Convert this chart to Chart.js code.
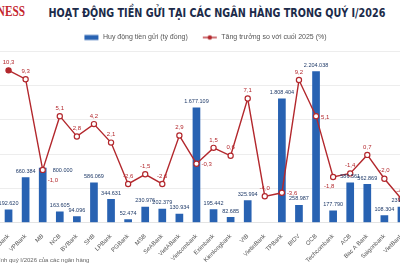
<!DOCTYPE html>
<html lang="vi">
<head>
<meta charset="utf-8">
<script src="https://cdn.jsdelivr.net/npm/chart.js@4.4.1/dist/chart.umd.min.js"></script>
<style>
html, body { margin: 0; padding: 0; background: #fff; }
body { width: 400px; height: 266px; position: relative; overflow: hidden; font-family: "Liberation Sans", Arial, sans-serif; }
#logo { position: absolute; left: -95px; width: 120px; text-align: right; top: 3px; font: bold 15px "Liberation Serif", serif; color: #c4262e; white-space: nowrap; transform: scaleX(0.75); transform-origin: right center; }
#title { position: absolute; left: 0; width: 433px; top: 5px; text-align: center; font-family: "DejaVu Sans", sans-serif; font-weight: bold; font-stretch: condensed; font-size: 13px; color: #1c2b4a; white-space: nowrap; }
#title span { display: inline-block; transform-origin: center; }
#note { position: absolute; left: -1px; top: 257px; font: 6px "Liberation Sans", sans-serif; color: #666; white-space: nowrap; }
#wrap { position: absolute; left: -40px; top: 0; width: 480px; height: 266px; }
</style>
</head>
<body>
<div id="logo">BUSINESS</div>
<div id="title"><span>HOẠT ĐỘNG TIỀN GỬI TẠI CÁC NGÂN HÀNG TRONG QUÝ I/2026</span></div>
<div id="wrap"><canvas id="chart"></canvas></div>
<div id="note">ính quý I/2026 của các ngân hàng</div>
<script>
// dữ liệu
const banks = ['HDBank', 'VPBank', 'MB', 'NCB', 'BVBank', 'SHB', 'LPBank', 'PGBank', 'MSB', 'SeABank',
  'VietABank', 'Vietcombank', 'Eximbank', 'Kienlongbank', 'VIB', 'VietinBank', 'TPBank', 'BIDV', 'OCB',
  'Techcombank', 'ACB', 'Bac A Bank', 'Saigonbank', 'VietBank'];
const deposits = [192620, 660384, 800000, 163605, 94096, 586069, 344631, 52474, 230976, 202379,
  130934, 1677109, 195442, 82685, 325994, null, 1808404, 258987, 2204038,
  177790, 586561, 562869, 108304, 231000];
const growth = [10.3, 9.3, -1.0, 5.1, 2.8, 4.2, 2.1, -2.6, -1.5, -2.6,
  2.9, -0.3, 1.5, 0.6, 7.1, -4.0, -3.6, 9.2, 5.1,
  -1.8, -1.4, 0.7, -2.0, -4.3];
const depositTicks = [0, 500000, 1000000, 1500000, 2000000, 2500000];

const BLUE = '#2862b2';
const RED = '#b3282d';

// chỗ đặt nhãn khác mặc định (mặc định: phía trên)
const growthLabelPos = { 2: 'right', 11: 'right', 16: 'right', 18: 'right', 19: 'below' };
const depositLabelPos = { 2: 'right' };

// tiêu đề co ngang cho vừa
const titleSpan = document.querySelector('#title span');
titleSpan.style.transform = 'scaleX(' + (337 / titleSpan.offsetWidth) + ')';

function fmtDeposit(v) {
  return v.toString().replace(/\B(?=(\d{3})+(?!\d))/g, '.');
}
function fmtGrowth(v) {
  return v.toFixed(1).replace('.', ',');
}

// biểu tượng chú thích
function legendIcon(kind) {
  const c = document.createElement('canvas');
  c.width = 16; c.height = 8;
  const g = c.getContext('2d');
  if (kind === 'bar') {
    g.fillStyle = BLUE;
    g.fillRect(1, 1.5, 14, 5);
  } else {
    g.strokeStyle = RED;
    g.lineWidth = 1.3;
    g.beginPath(); g.moveTo(1, 4); g.lineTo(15, 4); g.stroke();
    g.fillStyle = RED;
    g.beginPath(); g.arc(8, 4, 2.2, 0, Math.PI * 2); g.fill();
  }
  return c;
}
const icons = { bar: legendIcon('bar'), line: legendIcon('line') };

const valueLabels = {
  id: 'valueLabels',
  afterDatasetsDraw(chart) {
    const ctx = chart.ctx;
    ctx.save();
    ctx.font = '5.5px "Liberation Sans", sans-serif';
    ctx.textBaseline = 'middle';

    const barMeta = chart.getDatasetMeta(0);
    ctx.fillStyle = '#1f3a68';
    barMeta.data.forEach((el, i) => {
      const v = deposits[i];
      if (v == null) return;
      if (depositLabelPos[i] === 'right') {
        ctx.textAlign = 'left';
        ctx.fillText(fmtDeposit(v), el.x + 10, el.y + 3);
      } else {
        ctx.textAlign = 'center';
        ctx.fillText(fmtDeposit(v), el.x, el.y - 6);
      }
    });

    const lineMeta = chart.getDatasetMeta(1);
    ctx.font = '6px "Liberation Sans", sans-serif';
    ctx.fillStyle = RED;
    lineMeta.data.forEach((el, i) => {
      const t = fmtGrowth(growth[i]);
      const pos = growthLabelPos[i];
      if (pos === 'right') {
        ctx.textAlign = 'left';
        ctx.fillText(t, el.x + 5, el.y + (i === 2 ? 10 : 1));
      } else if (pos === 'below') {
        ctx.textAlign = 'center';
        ctx.fillText(t, el.x - 4, el.y + 9);
      } else {
        ctx.textAlign = 'center';
        ctx.fillText(t, el.x, el.y - 8);
      }
    });
    ctx.restore();
  }
};

new Chart(document.getElementById('chart'), {
  data: {
    labels: banks,
    datasets: [
      {
        type: 'bar',
        label: 'Huy động tiền gửi (tỷ đồng)',
        data: deposits,
        backgroundColor: BLUE,
        yAxisID: 'y',
        barPercentage: 0.9,
        categoryPercentage: 0.5,
        order: 2
      },
      {
        type: 'line',
        label: 'Tăng trưởng so với cuối 2025 (%)',
        data: growth,
        borderColor: RED,
        borderWidth: 1.4,
        tension: 0,
        pointRadius: 2.6,
        pointBorderWidth: 1.2,
        pointBorderColor: RED,
        pointBackgroundColor: growth.map((v, i) => i === 0 ? RED : '#fff'),
        yAxisID: 'y1',
        order: 1
      }
    ]
  },
  plugins: [valueLabels],
  options: {
    responsive: true,
    maintainAspectRatio: false,
    animation: false,
    layout: { padding: { left: 40, right: 30, top: 20, bottom: 0 } },
    plugins: {
      tooltip: { enabled: false },
      legend: {
        position: 'top',
        labels: {
          usePointStyle: true,
          pointStyleWidth: 16,
          boxHeight: 7,
          padding: 14,
          color: '#555',
          font: { size: 7, family: '"Liberation Sans", sans-serif' },
          generateLabels(chart) {
            return chart.data.datasets.map((ds, i) => ({
              text: ds.label,
              pointStyle: icons[ds.type],
              datasetIndex: i,
              hidden: false,
              lineWidth: 0,
              fontColor: '#555'
            }));
          }
        }
      }
    },
    scales: {
      x: {
        offset: true,
        grid: { display: false },
        border: { display: true, color: '#e4e4e4' },
        ticks: {
          minRotation: 45,
          maxRotation: 45,
          autoSkip: false,
          padding: 2,
          color: '#555',
          font: { size: 6, family: '"Liberation Sans", sans-serif' }
        }
      },
      y: {
        position: 'left',
        min: 0,
        max: 2500000,
        afterBuildTicks(axis) { axis.ticks = depositTicks.map(v => ({ value: v })); },
        ticks: { display: false },
        grid: { color: '#e9e9e9', drawTicks: false, lineWidth: 0.8 },
        border: { display: false }
      },
      y1: {
        position: 'right',
        min: -7,
        max: 12.5,
        display: false,
        grid: { display: false }
      }
    }
  }
});
</script>
</body>
</html>
